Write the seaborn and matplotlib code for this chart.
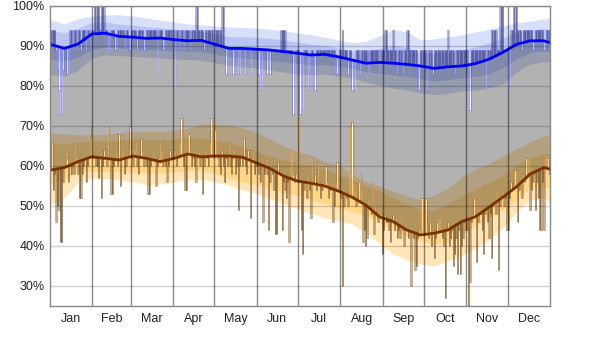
import numpy as np
import matplotlib
matplotlib.use("Agg")
import matplotlib.pyplot as plt
import seaborn as sns

sns.set_theme(style="white")
plt.rcParams["font.family"] = ["Liberation Sans", "DejaVu Sans"]

month_names = ["Jan", "Feb", "Mar", "Apr", "May", "Jun",
               "Jul", "Aug", "Sep", "Oct", "Nov", "Dec"]
month_lengths = [31, 28, 31, 30, 31, 30, 31, 31, 30, 31, 30, 31]

# percentile bands of the daily high / low relative humidity (%)
band_days = [0, 10, 20, 30, 40, 50, 60, 70, 80, 90, 100, 110, 120, 130, 140,
             150, 160, 170, 180, 190, 200, 210, 220, 230, 240, 250, 260, 270,
             280, 290, 300, 310, 320, 330, 340, 350, 360, 364]

high_p90 = [96.5, 95.5, 96.8, 97.5, 97.8, 97.8, 97.5, 97.0, 96.5, 96.0, 95.5,
            95.3, 95.0, 94.8, 94.6, 94.5, 94.2, 93.8, 93.3, 92.8, 92.2, 91.5,
            90.8, 91.2, 92.5, 94.2, 93.5, 91.5, 91.8, 92.3, 92.8, 93.5, 94.2,
            95.0, 95.8, 96.2, 96.8, 97.0]
high_p75 = [94.0, 93.2, 94.5, 95.8, 96.0, 95.5, 95.2, 94.8, 94.6, 94.2, 93.8,
            93.6, 93.0, 92.4, 92.3, 92.2, 91.9, 91.5, 91.0, 90.5, 90.2, 89.5,
            88.8, 88.6, 89.4, 90.2, 89.6, 88.4, 88.2, 88.6, 89.0, 89.8, 90.8,
            92.0, 93.4, 94.0, 94.4, 94.2]
high_med = [90.4, 89.4, 90.5, 93.0, 93.2, 92.4, 92.2, 91.9, 92.0, 91.6, 91.3,
            91.4, 90.4, 89.4, 89.4, 89.2, 89.0, 88.6, 88.2, 87.75, 87.9, 87.3,
            86.5, 85.7, 85.9, 85.7, 85.4, 85.0, 84.4, 84.8, 85.0, 85.6, 86.7,
            88.4, 90.4, 91.3, 91.3, 90.9]
high_p25 = [86.8, 86.2, 87.2, 89.2, 89.8, 89.5, 89.3, 89.1, 89.0, 88.8, 88.7,
            88.6, 88.0, 87.4, 87.0, 86.8, 86.4, 86.0, 85.6, 85.3, 85.4, 85.0,
            84.4, 83.6, 83.2, 82.8, 82.4, 81.8, 81.2, 81.6, 82.0, 82.4, 83.0,
            84.6, 86.8, 88.4, 88.8, 88.5]
high_p10 = [82.8, 82.5, 84.0, 87.0, 87.8, 87.6, 87.4, 87.2, 87.0, 86.8, 86.6,
            86.5, 85.8, 85.2, 84.8, 84.5, 84.0, 83.5, 83.0, 82.8, 83.0, 82.5,
            82.0, 81.0, 80.2, 79.5, 79.0, 78.3, 77.8, 78.2, 78.8, 79.0, 79.5,
            80.5, 83.5, 85.5, 86.0, 86.0]

low_p90 = [68.3, 68.0, 67.8, 67.8, 67.9, 68.3, 68.6, 68.6, 68.6, 69.0, 69.4,
           70.5, 70.5, 70.3, 69.5, 68.5, 66.8, 65.0, 63.6, 62.7, 61.0, 60.3,
           58.0, 56.0, 55.0, 53.7, 52.5, 51.5, 52.8, 54.5, 57.2, 59.3, 60.6,
           62.5, 64.3, 66.0, 67.5, 67.7]
low_p75 = [66.0, 65.5, 66.0, 66.3, 66.3, 66.5, 66.8, 66.6, 66.5, 66.8, 67.0,
           66.9, 66.5, 66.0, 65.0, 63.8, 62.5, 61.5, 60.7, 60.0, 59.0, 57.8,
           56.5, 55.0, 54.0, 52.0, 50.5, 49.2, 49.0, 50.5, 52.5, 54.3, 56.0,
           57.5, 60.2, 62.0, 63.0, 63.2]
low_med = [59.0, 59.6, 61.1, 62.3, 61.9, 61.5, 62.5, 61.9, 61.1, 61.9, 63.0,
           62.3, 62.5, 62.5, 62.2, 60.8, 59.4, 57.5, 56.25, 55.7, 55.0, 53.75,
           52.2, 50.25, 47.3, 46.1, 44.0, 42.75, 43.2, 44.0, 46.1, 47.3, 49.7,
           52.2, 54.8, 58.0, 59.6, 59.25]
low_p25 = [55.7, 56.5, 58.6, 58.6, 58.6, 58.5, 58.4, 58.2, 58.2, 58.5, 58.9,
           59.0, 58.0, 57.0, 56.0, 55.3, 54.3, 53.2, 52.6, 51.5, 50.5, 49.6,
           48.5, 47.5, 46.0, 44.0, 42.5, 41.2, 40.5, 41.2, 43.0, 45.0, 47.0,
           49.0, 51.5, 54.5, 54.8, 54.4]
low_p10 = [50.3, 52.0, 56.0, 57.0, 56.8, 56.5, 56.0, 55.3, 55.5, 56.0, 56.5,
           56.7, 56.0, 55.2, 54.0, 53.2, 51.8, 50.5, 49.3, 48.2, 47.0, 46.3,
           45.5, 43.5, 40.5, 38.0, 36.5, 35.5, 35.0, 36.3, 37.5, 39.5, 41.5,
           44.5, 48.5, 51.5, 52.2, 50.7]

# observed daily high relative humidity, one list per month
high_by_month = [
    [94, 94, 94, 94, 89, 84, 79, 73, 73, 84, 89, 89, 83, 83, 94, 94, 89, 94, 94, 89, 94, 94, 89, 94, 94, 94, 89, 94, 94, 89, 94],
    [94, 100, 100, 100, 100, 94, 100, 100, 100, 94, 94, 89, 89, 94, 94, 94, 89, 89, 94, 94, 94, 94, 94, 89, 94, 94, 89, 89],
    [94, 94, 94, 94, 89, 94, 94, 94, 94, 89, 89, 94, 94, 94, 94, 94, 94, 94, 94, 83, 94, 94, 94, 89, 89, 94, 94, 94, 94, 94, 89],
    [94, 79, 94, 94, 89, 94, 94, 89, 94, 94, 94, 94, 89, 94, 94, 94, 100, 100, 94, 94, 94, 94, 89, 94, 94, 94, 94, 94, 94, 89],
    [94, 94, 94, 94, 94, 100, 100, 89, 83, 83, 89, 89, 89, 83, 83, 89, 89, 83, 83, 89, 89, 89, 83, 89, 89, 89, 83, 89, 89, 89, 89],
    [83, 83, 79, 79, 89, 89, 89, 83, 83, 83, 89, 89, 89, 89, 89, 89, 89, 94, 94, 94, 94, 89, 89, 89, 89, 89, 73, 73, 89, 89],
    [89, 73, 73, 74, 89, 89, 89, 79, 79, 89, 89, 79, 79, 89, 89, 89, 89, 89, 89, 89, 89, 89, 89, 89, 89, 89, 89, 83, 83, 83, 89],
    [89, 94, 89, 89, 89, 83, 89, 89, 79, 79, 79, 89, 89, 89, 83, 89, 89, 89, 89, 89, 83, 89, 89, 89, 89, 89, 89, 89, 83, 89, 89],
    [89, 94, 94, 89, 89, 89, 89, 94, 89, 89, 83, 89, 89, 89, 83, 89, 89, 94, 94, 89, 89, 89, 89, 89, 89, 79, 79, 89, 89, 89],
    [89, 89, 79, 89, 89, 89, 83, 89, 89, 89, 89, 89, 89, 89, 89, 89, 89, 94, 89, 89, 89, 89, 83, 89, 89, 89, 89, 89, 89, 89, 89],
    [89, 74, 74, 89, 89, 89, 89, 89, 89, 89, 89, 89, 89, 89, 79, 89, 89, 89, 94, 94, 94, 94, 89, 89, 100, 100, 100, 89, 89, 89],
    [79, 79, 94, 94, 100, 100, 100, 94, 94, 94, 89, 94, 94, 94, 94, 94, 94, 94, 89, 89, 94, 94, 94, 94, 94, 94, 89, 89, 94, 94, 94],
]

# observed daily low relative humidity, one list per month
low_by_month = [
    [60, 66, 54, 58, 46, 50, 49, 41, 41, 56, 60, 64, 62, 56, 60, 58, 60, 58, 66, 62, 58, 52, 52, 58, 60, 62, 56, 60, 62, 67, 70],
    [62, 63, 60, 60, 57, 62, 52, 60, 64, 62, 60, 70, 62, 53, 53, 60, 62, 64, 60, 68, 55, 62, 64, 58, 60, 62, 64, 70],
    [62, 60, 64, 66, 60, 58, 62, 67, 64, 60, 62, 60, 53, 53, 60, 62, 64, 62, 55, 60, 62, 66, 64, 60, 62, 60, 56, 60, 64, 62, 66],
    [62, 64, 60, 62, 66, 72, 72, 60, 54, 54, 68, 68, 64, 60, 62, 60, 56, 62, 64, 60, 62, 53, 60, 64, 62, 60, 66, 72, 72, 62],
    [69, 70, 62, 60, 58, 64, 60, 56, 62, 60, 66, 60, 58, 62, 64, 58, 60, 49, 60, 62, 60, 67, 60, 58, 64, 62, 47, 62, 64, 58, 60],
    [60, 58, 56, 62, 46, 58, 62, 58, 44, 56, 60, 58, 54, 43, 43, 61, 58, 58, 44, 56, 54, 52, 56, 41, 64, 64, 58, 56, 58, 72],
    [72, 56, 44, 38, 54, 56, 52, 58, 54, 47, 62, 56, 58, 54, 61, 56, 52, 54, 56, 60, 60, 56, 52, 54, 56, 46, 50, 56, 61, 61, 54],
    [52, 30, 50, 54, 52, 50, 70, 70, 71, 70, 54, 50, 52, 56, 58, 54, 41, 44, 40, 42, 52, 50, 48, 56, 43, 50, 48, 46, 50, 48, 38],
    [44, 48, 46, 46, 44, 41, 46, 48, 44, 46, 42, 44, 42, 48, 44, 40, 46, 44, 42, 45, 30, 44, 42, 34, 35, 42, 44, 52, 52, 52],
    [52, 52, 44, 42, 46, 40, 44, 37, 42, 46, 47, 47, 44, 42, 40, 27, 44, 46, 40, 42, 44, 35, 38, 42, 33, 44, 33, 40, 42, 46, 44],
    [44, 25, 31, 46, 48, 52, 52, 36, 46, 50, 48, 44, 38, 48, 50, 46, 42, 48, 37, 50, 52, 48, 54, 34, 50, 52, 54, 50, 52, 44],
    [44, 52, 56, 54, 59, 59, 59, 46, 54, 56, 52, 58, 56, 62, 62, 62, 49, 54, 56, 58, 49, 56, 52, 44, 44, 56, 44, 62, 63, 62, 58],
]

for name, hi, lo, n in zip(month_names, high_by_month, low_by_month, month_lengths):
    if len(hi) != n or len(lo) != n:
        print("length mismatch", name, len(hi), len(lo), n)

daily_high = np.array([v for m in high_by_month for v in m], dtype=float)
daily_low = np.array([v for m in low_by_month for v in m], dtype=float)
n_days = min(len(daily_high), len(daily_low))
daily_high, daily_low = daily_high[:n_days], daily_low[:n_days]

fig = plt.figure(figsize=(6.0, 3.44), dpi=100)
ax = fig.add_axes([50 / 600, 38 / 344, 500 / 600, 300 / 344])
ax.set_facecolor("white")

bx = np.array(band_days) + 0.5
blue_band = (60 / 255, 95 / 255, 225 / 255, 0.2)
orange_band = (1.0, 175 / 255, 25 / 255, 0.3)

# percentile bands (10-90 and 25-75)
ax.fill_between(bx, high_p10, high_p90, color=blue_band, lw=0, zorder=2)
ax.fill_between(bx, high_p25, high_p75, color=blue_band, lw=0, zorder=2)
ax.fill_between(bx, low_p10, low_p90, color=orange_band, lw=0, zorder=2)
ax.fill_between(bx, low_p25, low_p75, color=orange_band, lw=0, zorder=2)

# daily bars from the median line to the observed value
days = np.arange(n_days)
base_hi = np.interp(days + 0.5, bx, high_med)
base_lo = np.interp(days + 0.5, bx, low_med)
ax.bar(days, daily_high - base_hi, bottom=base_hi, width=1, align="edge",
       fill=False, edgecolor=(0.4, 0.4, 1.0, 0.45), linewidth=0.6,
       zorder=3)
ax.bar(days, daily_low - base_lo, bottom=base_lo, width=1, align="edge",
       fill=False, edgecolor=(0.78, 0.58, 0.32, 0.7), linewidth=0.7,
       zorder=3)

# shading between the observed daily low and high
xs = np.arange(n_days + 1)
ax.fill_between(xs, np.append(daily_low, daily_low[-1]),
                np.append(daily_high, daily_high[-1]), step="post",
                color="black", alpha=0.3, lw=0, zorder=4)

# median lines
sns.lineplot(x=bx, y=high_med, color="#0000ff", lw=2.0, ax=ax, zorder=5)
sns.lineplot(x=bx, y=low_med, color="#7a3300", lw=2.0, ax=ax, zorder=5)

# grid
yticks = list(range(30, 101, 10))
for y in yticks:
    ax.axhline(y, color=(0, 0, 0, 0.18), lw=1, zorder=6)
starts = np.cumsum([0] + month_lengths)
for s in starts[1:-1]:
    ax.axvline(s, color=(0, 0, 0, 0.45), lw=1, zorder=6)

ax.set_xlim(0, 365)
ax.set_ylim(25, 100)
ax.set_yticks(yticks, labels=[f"{y}%" for y in yticks])
mids = starts[:-1] + np.array(month_lengths) / 2
ax.set_xticks(mids, labels=month_names)
ax.tick_params(axis="both", length=0, labelsize=9, colors="#222222")
ax.tick_params(axis="y", pad=4)
ax.tick_params(axis="x", pad=5)
ax.set_xlabel("")
ax.set_ylabel("")
for sp in ax.spines.values():
    sp.set_color("#888888")
    sp.set_linewidth(1)
    sp.set_zorder(7)

fig.savefig("out.png", dpi=100)
